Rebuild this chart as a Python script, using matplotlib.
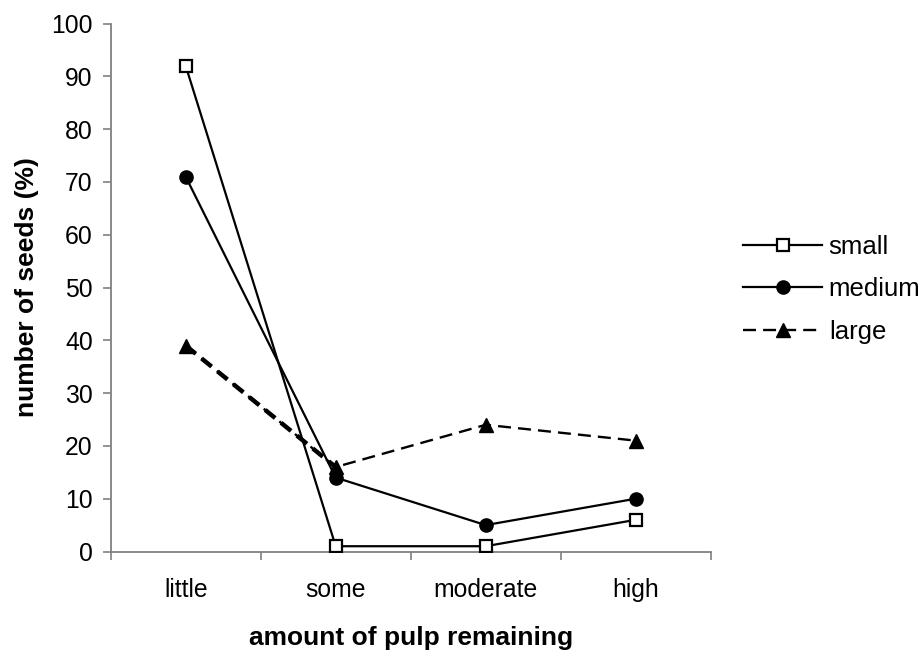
import matplotlib.pyplot as plt
import numpy as np

plt.rcParams['font.family'] = ['Liberation Sans', 'DejaVu Sans']

categories = ['little', 'some', 'moderate', 'high']
small = [92, 1, 1, 6]
medium = [71, 14, 5, 10]
large = [39, 16, 24, 21]

x = np.arange(len(categories)) + 0.5

W, H = 923, 651
fig = plt.figure(figsize=(W / 100, H / 100), dpi=100)
# axes box in pixels: left 110.7, right 710.7, bottom (0) at 551.5, top (100) at 23.6
ax = fig.add_axes([110.7 / W, (H - 551.5) / H, 600 / W, 527.9 / H])

ax.plot(x, small, color='k', lw=1.6, marker='s', ms=8.5, mfc='white',
        mec='k', mew=1.6, label='small', zorder=3)
ax.plot(x, medium, color='k', lw=1.6, marker='o', ms=9.5, label='medium', zorder=3)
# first segment of the dashed series is heavier in the original
ax.plot(x[:2], large[:2], color='k', lw=3.2, ls=(0, (2.9, 1.7)), zorder=2)
ax.plot(x, large, color='k', lw=1.7, ls=(0, (5.5, 3)), marker='^', ms=9.5,
        label='large', zorder=2)

ax.set_xlim(0, len(categories))
ax.set_ylim(0, 100)
ax.set_yticks(np.arange(0, 101, 10))
ax.set_xticks(np.arange(0, len(categories) + 1))
ax.set_xticklabels([])
ax.set_xticks(x, minor=True)
ax.set_xticklabels(categories, minor=True)
ax.tick_params(axis='x', which='minor', length=0, pad=19, labelsize=17.8)
ax.tick_params(axis='x', which='major', length=6, color='#808080', width=1.2)
ax.tick_params(axis='y', length=6, color='#808080', width=1.2, labelsize=17.8, pad=7)

for s in ['top', 'right']:
    ax.spines[s].set_visible(False)
for s in ['left', 'bottom']:
    ax.spines[s].set_color('#808080')
    ax.spines[s].set_linewidth(1.3)

ax.set_xlabel('amount of pulp remaining', fontsize=19, fontweight='bold')
ax.set_ylabel('number of seeds (%)', fontsize=19, fontweight='bold')
ax.xaxis.set_label_coords(410.7 / W, (H - 626) / H, transform=fig.transFigure)
ax.yaxis.set_label_coords(39 / W, (H - 287) / H, transform=fig.transFigure)

ax.legend(loc='center left', bbox_to_anchor=(742.7 / W, (H - 289) / H),
          bbox_transform=fig.transFigure, frameon=False, borderpad=0,
          borderaxespad=0, fontsize=18.5, handlelength=3.1, handletextpad=0.25,
          labelspacing=0.72)

plt.savefig('out.png', dpi=100)
